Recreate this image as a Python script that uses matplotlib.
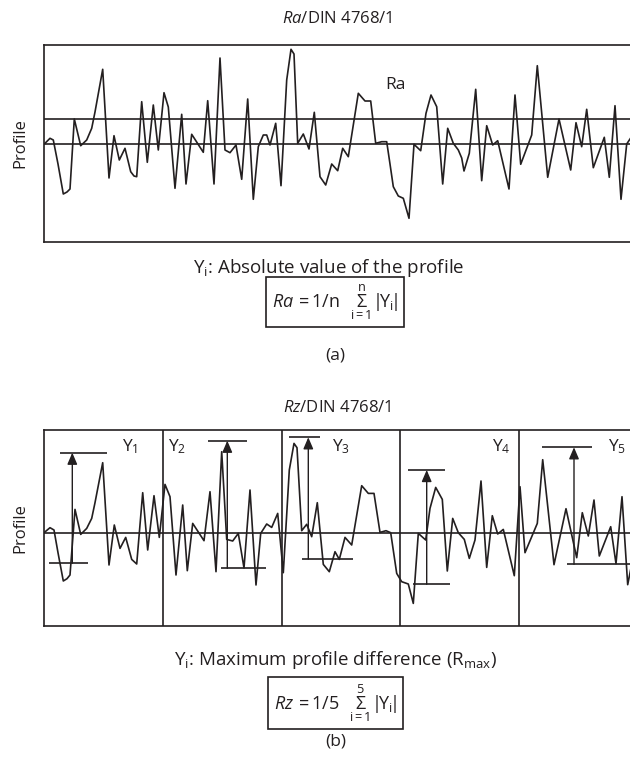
import matplotlib
matplotlib.use("Agg")
import matplotlib.pyplot as plt

plt.rcParams['font.family'] = ['Open Sans', 'DejaVu Sans']
plt.rcParams['mathtext.fontset'] = 'custom'
plt.rcParams['mathtext.rm'] = 'Open Sans'
plt.rcParams['mathtext.it'] = 'Open Sans:italic'
plt.rcParams['mathtext.bf'] = 'Open Sans:bold'

INK = '#231f20'

# profile (a): position along the trace, height above mean line
pos_a = [45, 50, 53.3, 58, 63.3, 67, 70, 74.3, 80.7, 86.7, 91.7, 95, 102.7, 109, 114,
         119.3, 125, 130.7, 134, 136.7, 141.7, 147.3, 153.3, 158.3, 164, 168.3, 175,
         181.7, 186, 191.7, 203.3, 207.7, 214, 220, 225, 230, 236, 241.7, 247.7, 253.3,
         258.3, 263.3, 266.7, 270, 275.7, 281, 286.7, 291, 294, 297.7, 303.3, 309, 314.3,
         320, 325.7, 331.7, 337.7, 342.7, 348.3, 358.3, 365, 370.7, 375.7, 381.7, 386.7,
         390, 393.3, 398.3, 403.3, 409, 414, 420.7, 426, 431, 436.7, 442.7, 447.7, 453.3,
         458.3, 461.7, 464, 469.3, 475.7, 481.7, 486.7, 492.7, 497.7, 509, 515, 520.7,
         531.7, 537.3, 547.7, 559, 570.7, 576, 581.7, 586.7, 593.3, 604.3, 609.3, 615,
         621, 626.7, 632]
height_a = [0.7, 5.7, 4, -20, -50, -48, -45, 25, -1.7, 4, 15.7, 32, 74.7, -34, 8.3,
            -16, -4.3, -27.7, -32, -32.7, 42.3, -18.3, 39, -6, 51.3, 37, -44.3,
            29.7, -40, 9.7, -8.3, 43.3, -40, 86, -6, -8.7, -1, -35.3, 45, -55.3,
            -2.7, 9, 9, -1, 20.7, -41.7, 64, 94.7, 90, 0.7, 10, -5, 31.7,
            -32.7, -41, -20, -26.7, -4.3, -12.7, 50.7, 43, 43, 0.7, 2.3, 2.3,
            -20, -42.7, -52, -54.3, -74.3, -0.3, -6.7, 30.7, 49, 37.3, -40, 15.7, 0.7,
            -6, -14, -27, -9.3, 54.7, -36.7, 18.3, -1, 3.3, -45, 49, -20.3,
            9, 78.3, -33.3, 25, -26, 21.3, -2.7, 34.7, -23.7, 6.7, -33.3, 38.3,
            -55.3, 0, 8]
ra_level = 25.3

# profile (b)
pos_b = [44, 50, 54, 58, 63.3, 67, 70, 75, 80.7, 86.7, 91.7, 95, 102.7, 109, 114.3,
         120, 125.7, 131.7, 136.7, 142.7, 147.7, 154, 159.3, 165, 170, 176, 182.7,
         187.3, 192.7, 204, 210, 216, 221.7, 226.7, 232.7, 238.3, 244, 250, 256,
         260.7, 266.7, 271.7, 277.7, 283.3, 289.3, 294, 297, 301.7, 306.7, 311.7,
         317.3, 323.3, 329.3, 335, 339.3, 345, 351.7, 361.7, 368.3, 374, 380, 386,
         390.7, 396.7, 401.7, 408.3, 413.3, 418.3, 425.7, 430, 435.7, 442.3, 447.3,
         452.7, 458.3, 464.3, 469.3, 475, 481, 486.7, 492.3, 497.7, 503.3, 514.3,
         520, 525, 537.3, 542.7, 554, 566, 576.7, 582.3, 588.3, 594, 599.3, 610.7,
         616, 622, 627.7, 632]
height_b = [0, 5, 2.7, -20, -48.3, -46, -42.3, 23.3, -1.7, 4.3, 14.3, 30, 70, -32.3, 7.7,
            -15.7, -4.7, -26.7, -31.3, 40, -17.3, 37, -4.7, 48.3, 36, -42.3, 27.7,
            -38, 9.3, -8, 41, -39, 81, -6.7, -8.3, -0.7, -35.3, 42.7, -52.3,
            -0.7, 8.7, 5.3, 19.3, -40, 62.7, 89.3, 85, 2, 8.4, -4,
            30, -31.7, -39, -19, -26.7, -4.7, -12.3, 47, 39.3, 39.3, 0.3, 2,
            0, -40.7, -49, -51.3, -70.7, -0.7, -7.3, 24.3, 45.3, 33.3, -38.3,
            14.3, 0, -6.7, -25.7, -7.3, 51.7, -34.7, 17, -1.3, 3.3, -43,
            46, -20, 9.3, 73, -32, 24, -25, 20, -3.3, 32.7, -23.3, 6,
            -31, 36, -52, -30]

# five sampling sections of (b)
dividers = [163.3, 281.7, 400, 519]
sec_labels = ['Y$_1$', 'Y$_2$', 'Y$_3$', 'Y$_4$', 'Y$_5$']
label_x = [122, 168, 332, 492, 608]
arrow_x = [72.3, 227.3, 308.3, 426.7, 574]
peak = [80, 92, 95.4, 62.7, 85.4]
valley = [-30.6, -35.6, -26.3, -51.6, -31.6]
peak_span = [(60, 106.7), (208, 246.7), (289.3, 320), (407.7, 445), (541.7, 591.7)]
valley_span = [(49.3, 88.3), (220.7, 266), (301.7, 352.7), (413.3, 450), (566.7, 632)]

W, H = 630, 759
fig = plt.figure(figsize=(W / 100, H / 100), dpi=100)
LW = 1.2


def frame(ax):
    for s in ['left', 'top', 'bottom']:
        ax.spines[s].set_color(INK)
        ax.spines[s].set_linewidth(LW)
    ax.spines['right'].set_visible(False)
    ax.set_xticks([])
    ax.set_yticks([])
    ax.set_xlim(44, 630)


# ---- panel (a)
ax1 = fig.add_axes([44 / W, 1 - 242 / H, 1 - 44 / W, 197 / H])
frame(ax1)
ax1.set_ylim(-98, 99)
ax1.axhline(0, color=INK, lw=LW)
ax1.axhline(ra_level, color=INK, lw=LW)
ax1.plot(pos_a, height_a, color=INK, lw=LW)
ax1.text(395, 59, 'Ra', fontsize=12.5, ha='center', va='center', color=INK)
ax1.set_ylabel('Profile', fontsize=12, color=INK, labelpad=11)

fig.text(0.535, 1 - 19 / H, r'$\mathit{Ra}$/DIN 4768/1', fontsize=12,
         ha='center', va='center', color=INK)
fig.text(0.522, 1 - 268 / H, r'Y$_\mathrm{i}$: Absolute value of the profile',
         fontsize=13.5, ha='center', va='center', color=INK)
fig.text(335 / W, 1 - 302 / H,
         r'$\mathit{Ra}\,= 1/\mathrm{n}\ \ \underset{\mathrm{i{=}1}}{\overset{\mathrm{n}}{\Sigma}}{|}\!\mathrm{Y_i}\!{|}$',
         fontsize=13, ha='center', va='center', color=INK,
         bbox=dict(boxstyle='square,pad=0.3', fc='white', ec=INK, lw=LW))
fig.text(0.532, 1 - 355 / H, '(a)', fontsize=12.5, ha='center', va='center', color=INK)

# ---- panel (b)
ax2 = fig.add_axes([44 / W, 1 - 626 / H, 1 - 44 / W, 196 / H])
frame(ax2)
ax2.set_ylim(-93.3, 102.7)
ax2.axhline(0, color=INK, lw=LW)
ax2.plot(pos_b, height_b, color=INK, lw=LW)
for d in dividers:
    ax2.axvline(d, color=INK, lw=LW)
for i in range(5):
    ax2.hlines(peak[i], *peak_span[i], color=INK, lw=LW)
    ax2.hlines(valley[i], *valley_span[i], color=INK, lw=LW)
    ax2.annotate('', xy=(arrow_x[i], peak[i]), xytext=(arrow_x[i], valley[i]),
                 arrowprops=dict(arrowstyle='-|>,head_length=0.7,head_width=0.3',
                                 color=INK, lw=1.0, shrinkA=0, shrinkB=0))
    ax2.text(label_x[i], 86, sec_labels[i], fontsize=12.5, ha='left', va='center',
             color=INK)
ax2.set_ylabel('Profile', fontsize=12, color=INK, labelpad=11)

fig.text(0.535, 1 - 408 / H, r'$\mathit{Rz}$/DIN 4768/1', fontsize=12,
         ha='center', va='center', color=INK)
fig.text(0.533, 1 - 660 / H, r'Y$_\mathrm{i}$: Maximum profile difference (R$_\mathrm{max}$)',
         fontsize=13.5, ha='center', va='center', color=INK)
fig.text(335.5 / W, 1 - 703 / H,
         r'$\mathit{Rz}\,= 1/5\ \ \underset{\mathrm{i{=}1}}{\overset{5}{\Sigma}}{|}\!\mathrm{Y_i}\!{|}$',
         fontsize=13, ha='center', va='center', color=INK,
         bbox=dict(boxstyle='square,pad=0.3', fc='white', ec=INK, lw=LW))
fig.text(0.533, 1 - 741 / H, '(b)', fontsize=12.5, ha='center', va='center', color=INK)

fig.savefig('out.png', dpi=100)
